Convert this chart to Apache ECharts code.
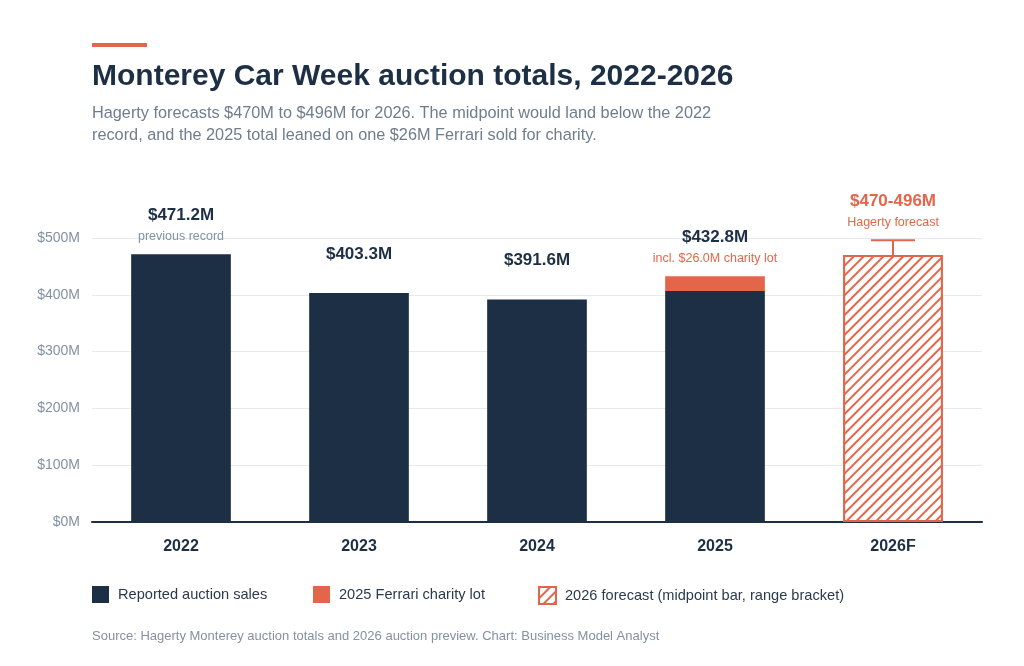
<!DOCTYPE html>
<html>
<head>
<meta charset="utf-8">
<script src="https://cdn.jsdelivr.net/npm/echarts@6/dist/echarts.min.js"></script>
<style>
  html, body { margin: 0; padding: 0; background: #fff; }
  #main { width: 1024px; height: 666px; }
</style>
</head>
<body>
<div id="main"></div>
<script type="text/javascript">
// data
var years = ['2022', '2023', '2024', '2025', '2026F'];
var reported = [471.2, 403.3, 391.6, 406.8, '-'];
var charityLot = ['-', '-', '-', 26.0, '-'];
var forecastBar = ['-', '-', '-', '-', 470];
var forecastRange = [[4, 470, 496]];
var labelTops = [471.2, 403.3, 391.6, 432.8, 496];
var valueLabels = ['$471.2M', '$403.3M', '$391.6M', '$432.8M', '$470-496M'];
var noteLabels = ['previous record', '', '', 'incl. $26.0M charity lot', 'Hagerty forecast'];
var yTicks = [0, 100, 200, 300, 400, 500];
var legendNames = ['Reported auction sales', '2025 Ferrari charity lot', '2026 forecast (midpoint bar, range bracket)'];

var NAVY = '#1d2f45';
var ORANGE = '#e4664a';
var GREY = '#8391a0';
var FONT = '"Liberation Sans", Arial, sans-serif';

var myChart = echarts.init(document.getElementById('main'));

// one legend per entry so each can sit where the reference has it
var legendLeft = [92, 313, 538];
var legends = legendNames.map(function (name, i) {
  return {
    left: legendLeft[i],
    top: 586,
    padding: 0,
    itemWidth: 17,
    itemHeight: 17,
    icon: 'rect',
    selectedMode: false,
    textStyle: { fontFamily: FONT, fontSize: 14.6, color: '#2b3a4c', padding: [0, 0, 0, 4] },
    data: [name]
  };
});

var option = {
  backgroundColor: '#fff',
  textStyle: { fontFamily: FONT },
  animation: false,
  title: {
    text: 'Monterey Car Week auction totals, 2022-2026',
    subtext: 'Hagerty forecasts $470M to $496M for 2026. The midpoint would land below the 2022\nrecord, and the 2025 total leaned on one $26M Ferrari sold for charity.',
    left: 92,
    top: 62,
    padding: 0,
    itemGap: 11,
    textStyle: { fontFamily: FONT, fontSize: 30, fontWeight: 'bold', color: NAVY, lineHeight: 30 },
    subtextStyle: { fontFamily: FONT, fontSize: 16.3, color: '#6f7d8c', lineHeight: 22 }
  },
  graphic: [
    { type: 'rect', left: 92, top: 43, shape: { width: 55, height: 4 }, style: { fill: ORANGE } },
    {
      type: 'text', left: 92, top: 630,
      style: {
        text: 'Source: Hagerty Monterey auction totals and 2026 auction preview. Chart: Business Model Analyst',
        font: '13px ' + FONT, fill: GREY
      }
    }
  ],
  legend: legends,
  grid: { left: 92, right: 42, top: 238, bottom: 144 },
  xAxis: {
    type: 'category',
    data: years,
    axisTick: { show: false },
    axisLine: { lineStyle: { color: NAVY, width: 2 } },
    axisLabel: { margin: 17, fontFamily: FONT, fontSize: 16, fontWeight: 'bold', color: NAVY }
  },
  yAxis: {
    type: 'value',
    min: 0,
    max: 500,
    interval: 100,
    axisLine: { show: false },
    axisTick: { show: false },
    splitLine: { lineStyle: { color: '#e6eaef', width: 1 } },
    axisLabel: {
      margin: 12, fontFamily: FONT, fontSize: 14, color: GREY,
      formatter: function (v) { return yTicks.indexOf(v) >= 0 ? '$' + v + 'M' : ''; }
    }
  },
  series: [
    {
      name: legendNames[0],
      type: 'bar',
      stack: 'total',
      barWidth: '56%',
      itemStyle: { color: NAVY },
      data: reported
    },
    {
      name: legendNames[1],
      type: 'bar',
      stack: 'total',
      itemStyle: { color: ORANGE },
      data: charityLot
    },
    {
      name: legendNames[2],
      type: 'bar',
      stack: 'total',
      itemStyle: {
        color: '#fff',
        borderColor: ORANGE,
        borderWidth: 2,
        decal: {
          symbol: 'rect',
          color: ORANGE,
          backgroundColor: '#fff',
          dashArrayX: [1, 0],
          dashArrayY: [2, 5],
          rotation: -Math.PI / 4
        }
      },
      data: forecastBar
    },
    {
      name: 'range',
      type: 'custom',
      silent: true,
      z: 5,
      renderItem: function (params, api) {
        var x = api.value(0);
        var lo = api.coord([x, api.value(1)]);
        var hi = api.coord([x, api.value(2)]);
        var half = 22;
        var st = { stroke: ORANGE, lineWidth: 2 };
        return {
          type: 'group',
          children: [
            { type: 'line', shape: { x1: lo[0], y1: lo[1], x2: hi[0], y2: hi[1] }, style: st },
            { type: 'line', shape: { x1: hi[0] - half, y1: hi[1], x2: hi[0] + half, y2: hi[1] }, style: st }
          ]
        };
      },
      data: forecastRange
    },
    {
      name: 'labels',
      type: 'custom',
      silent: true,
      z: 6,
      renderItem: function (params, api) {
        var i = params.dataIndex;
        var p = api.coord([i, api.value(1)]);
        var isForecast = i === 4;
        var noteColor = (i === 3 || isForecast) ? ORANGE : GREY;
        return {
          type: 'group',
          children: [
            {
              type: 'text',
              style: {
                x: p[0], y: p[1] - 39, text: valueLabels[i],
                align: 'center', verticalAlign: 'middle',
                font: 'bold 17px ' + FONT, fill: isForecast ? ORANGE : NAVY
              }
            },
            {
              type: 'text',
              style: {
                x: p[0], y: p[1] - 18, text: noteLabels[i],
                align: 'center', verticalAlign: 'middle',
                font: '12.5px ' + FONT, fill: noteColor
              }
            }
          ]
        };
      },
      data: labelTops.map(function (v, i) { return [i, v]; })
    }
  ]
};

myChart.setOption(option);
</script>
</body>
</html>
